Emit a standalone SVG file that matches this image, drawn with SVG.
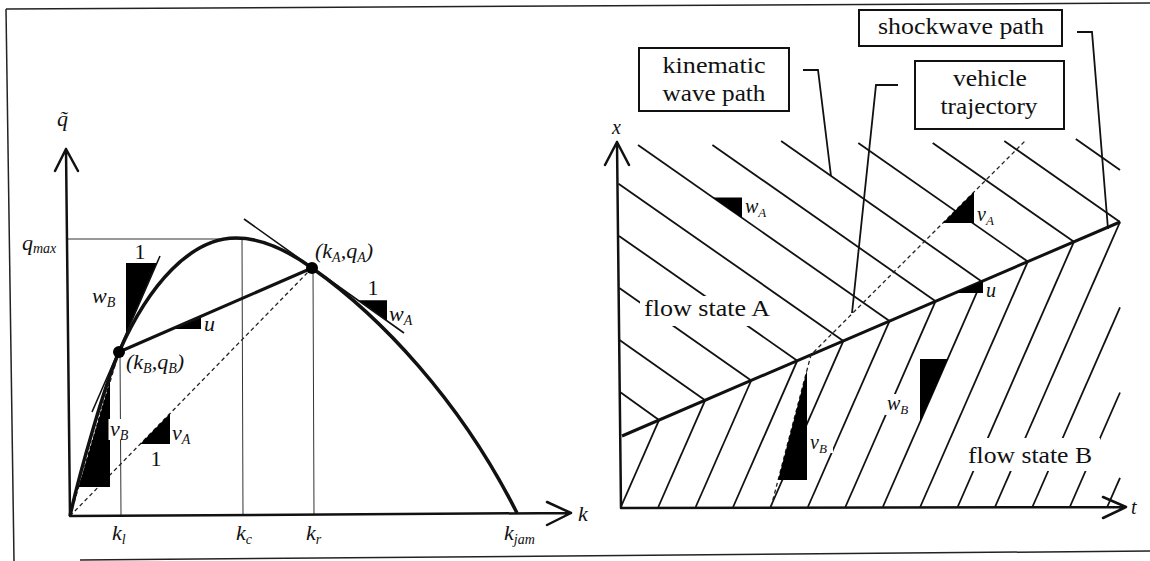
<svg xmlns="http://www.w3.org/2000/svg" width="1150" height="561" viewBox="0 0 1150 561">
<style>
.frame{fill:none;stroke:#222;stroke-width:1.5}
.axis{fill:none;stroke:#111;stroke-width:2.5;stroke-linecap:round;stroke-linejoin:round}
.thin{fill:none;stroke:#333;stroke-width:1}
.curve{fill:none;stroke:#111;stroke-width:3.5}
.thick{fill:none;stroke:#111;stroke-width:3}
.tan{fill:none;stroke:#111;stroke-width:1.6}
.dash{fill:none;stroke:#222;stroke-width:1.3;stroke-dasharray:4 3}
.wdash{fill:none;stroke:#fff;stroke-width:1.2;stroke-dasharray:2 4}
.wave{fill:none;stroke:#111;stroke-width:1.8}
.tri{fill:#000}
.dot{fill:#000}
.box{fill:#fff;stroke:#111;stroke-width:2}
.lead{fill:none;stroke:#111;stroke-width:1.8}
.bg{fill:#fff}
text{font-family:"Liberation Serif","Times New Roman",serif;fill:#111}
.lab{font-size:23px;text-anchor:middle}
.m{font-size:22px;font-style:italic}
.s{font-size:14px}
.mr{font-size:20px;font-style:italic}
.sr{font-size:13px}
.n{font-size:22px;text-anchor:middle}
</style>
<g id="frame">
<line class="frame" x1="6" y1="9" x2="1150" y2="3"/>
<line class="frame" x1="6" y1="9" x2="14" y2="561"/>
<line class="frame" x1="80" y1="560" x2="1150" y2="551"/>
</g>
<g id="left-diagram">
<path class="thin" d="M66,239 H242 M242,239 L243,516 M313,268 L314,515 M120,352 L121,516"/>
<path class="dash" d="M70,516 L312,268 M70,516 L119,352"/>
<polygon class="tri" points="78.5,487 110,487 110,379"/>
<path class="wdash" d="M80,480 L108,386"/>
<polygon class="tri" points="126,263 157,263 126,334"/>
<polygon class="tri" points="172,329 201,329 201,316.3"/>
<polygon class="tri" points="140.2,444 170,444 170,413.5"/>
<polygon class="tri" points="358,300.2 387,300.2 387,320.9"/>
<path class="tan" d="M92,412 L160,256 M244,219 L404,333"/>
<path class="curve" d="M70,516 C80,471 105,384 119,352 C149,284 191,238 236,238 C261,238 287,250 312,268 C380,316 460,400 517,513"/>
<path class="thick" d="M119,352 L312,268"/>
<circle class="dot" cx="119" cy="352" r="6"/>
<circle class="dot" cx="312" cy="268" r="6"/>
<path class="axis" d="M70,516 L66,149 M55,171 L66,149 L78,171 M70,516 L571,513 M547,502 L571,513 L547,525"/>
<rect class="bg" x="108.5" y="419" width="26" height="21"/>
<text class="m" x="57" y="126" font-size="26">q&#771;</text>
<text class="m" x="22" y="250">q<tspan class="s" dy="3">max</tspan></text>
<text class="m" x="92" y="303">w<tspan class="s" dy="4">B</tspan></text>
<text class="n" x="140" y="259">1</text>
<text class="m" x="204" y="331">u</text>
<text class="m" x="126" y="369">(k<tspan class="s" dy="4">B</tspan><tspan dy="-4">,q</tspan><tspan class="s" dy="4">B</tspan><tspan dy="-4">)</tspan></text>
<text class="m" x="110" y="436">v<tspan class="s" dy="4">B</tspan></text>
<text class="m" x="172" y="440">v<tspan class="s" dy="4">A</tspan></text>
<text class="n" x="156" y="466">1</text>
<text class="m" x="315" y="258">(k<tspan class="s" dy="4">A</tspan><tspan dy="-4">,q</tspan><tspan class="s" dy="4">A</tspan><tspan dy="-4">)</tspan></text>
<text class="n" x="373" y="295">1</text>
<text class="m" x="389" y="321">w<tspan class="s" dy="4">A</tspan></text>
<text class="m" x="112" y="540">k<tspan class="s" dy="4">l</tspan></text>
<text class="m" x="236" y="540">k<tspan class="s" dy="4">c</tspan></text>
<text class="m" x="306" y="540">k<tspan class="s" dy="4">r</tspan></text>
<text class="m" x="504" y="540">k<tspan class="s" dy="4">jam</tspan></text>
<text class="m" x="578" y="521">k</text>
</g>
<g id="right-diagram">
<g id="state-A-waves" class="wave">
<path d="M620,392.1 L659,420.1"/>
<path d="M619.5,340 L705.1,400.3"/>
<path d="M619.3,287.9 L751.2,380.5"/>
<path d="M619,235.9 L797.3,360.7"/>
<path d="M618.5,183.8 L843.4,340.9"/>
<path d="M638,145 L889.5,321.1"/>
<path d="M712.4,145 L935.6,301.2"/>
<path d="M781.1,141 L981.7,281.4"/>
<path d="M858.3,143 L1027.8,261.6"/>
<path d="M932.7,143 L1073.9,241.8"/>
<path d="M1004.3,141 L1120,222"/>
<path d="M1075.8,139 L1120,169.9"/>
</g>
<g id="state-B-waves" class="wave">
<path d="M620.9,507 L659,420.1"/>
<path d="M658.3,507 L705.1,400.3"/>
<path d="M695.7,507 L751.2,380.5"/>
<path d="M733.1,507 L797.3,360.7"/>
<path d="M770.5,507 L843.4,340.9"/>
<path d="M807.9,507 L889.5,321.1"/>
<path d="M845.4,507 L935.6,301.2"/>
<path d="M882.8,507 L981.7,281.4"/>
<path d="M920.2,507 L1027.8,261.6"/>
<path d="M957.6,507 L1073.9,241.8"/>
<path d="M995,507 L1120,222"/>
<path d="M1032.4,507 L1120,307.3"/>
<path d="M1069.8,507 L1120,392.5"/>
<path d="M1107.2,507 L1120,477.8"/>
</g>
<path class="thick" d="M622,436 L1120,222"/>
<path class="dash" d="M771,507 L811,354.8 L1026,140"/>
<polygon class="tri" points="778.1,480 807,480 807,370"/>
<polygon class="tri" points="942.8,223 974,223 974,191.8"/>
<polygon class="tri" points="713,197.5 742,197.5 742,217.8"/>
<polygon class="tri" points="920,359 947.7,359 920,422.2"/>
<polygon class="tri" points="955,292.9 983,280.9 983,292.9"/>
<path class="axis" d="M621,508 L617,142 M605,165 L617,142 L629,165 M621,508 L1126,507 M1103,497 L1126,507 L1103,518"/>
<rect class="bg" x="640" y="296" width="132" height="30"/>
<rect class="bg" x="963" y="438" width="137" height="33"/>
<rect class="bg" x="885" y="394" width="27" height="21"/>
<rect class="bg" x="809" y="434" width="24" height="19"/>
<text class="lab" x="707" y="316" textLength="126" lengthAdjust="spacingAndGlyphs">flow state A</text>
<text class="lab" x="1030" y="463" textLength="124" lengthAdjust="spacingAndGlyphs">flow state B</text>
<text class="mr" x="612" y="134">x</text>
<text class="mr" x="1131" y="514">t</text>
<text class="mr" x="745" y="213">w<tspan class="sr" dy="4">A</tspan></text>
<text class="mr" x="977" y="221">v<tspan class="sr" dy="4">A</tspan></text>
<text class="mr" x="986" y="297">u</text>
<text class="mr" x="887" y="410">w<tspan class="sr" dy="4">B</tspan></text>
<text class="mr" x="810" y="449">v<tspan class="sr" dy="4">B</tspan></text>
</g>
<g id="connectors">
<path class="lead" d="M803,70 H818 L831,176"/>
<path class="lead" d="M898,85 H876 L852,313"/>
<path class="lead" d="M1077,32 H1092 L1108,229"/>
</g>
<g id="callout-kinematic">
<rect class="box" x="639" y="48" width="150" height="63"/>
<text class="lab" x="714" y="73" textLength="103" lengthAdjust="spacingAndGlyphs">kinematic</text>
<text class="lab" x="714" y="101" textLength="103" lengthAdjust="spacingAndGlyphs">wave path</text>
</g>
<g id="callout-vehicle">
<rect class="box" x="915" y="61" width="149" height="68"/>
<text class="lab" x="990" y="86" textLength="74" lengthAdjust="spacingAndGlyphs">vehicle</text>
<text class="lab" x="989" y="114" textLength="97" lengthAdjust="spacingAndGlyphs">trajectory</text>
</g>
<g id="callout-shockwave">
<rect class="box" x="859" y="10" width="203" height="36"/>
<text class="lab" x="961" y="34" textLength="166" lengthAdjust="spacingAndGlyphs">shockwave path</text>
</g>
</svg>
